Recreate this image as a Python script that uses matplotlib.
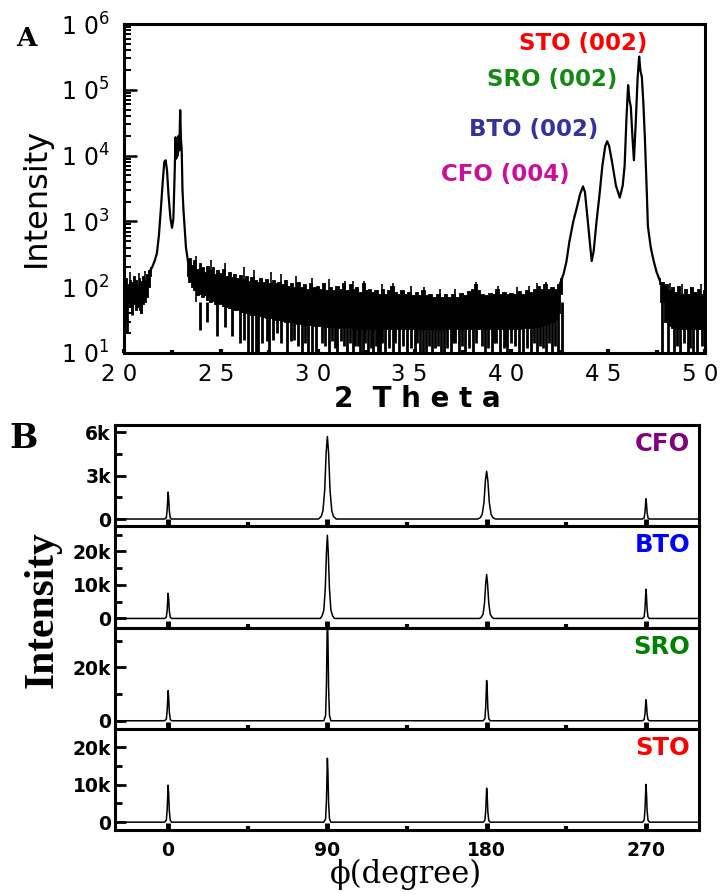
import matplotlib
matplotlib.use("Agg")
import matplotlib.pyplot as plt
from matplotlib import ticker
from matplotlib.transforms import ScaledTranslation

plt.rcParams['font.family'] = ['DejaVu Sans']
plt.rcParams['mathtext.fontset'] = 'dejavusans'

# ---------------- panel A : 2theta scan ----------------
# noisy background, read as upper / lower edge of the black band
bg1_t = [20.0, 20.1, 20.2, 20.3, 20.4, 20.5, 20.6, 20.7, 20.8, 20.9, 21.0, 21.1, 21.2, 21.3, 21.4]
bg1_hi = [120, 140, 110, 130, 120, 150, 130, 110, 140, 125, 150, 130, 160, 180, 200]
bg1_lo = [45, 30, 55, 50, 40, 55, 45, 50, 45, 40, 55, 60, 70, 100, 150]

bg2_t = [23.25, 23.40, 23.50, 23.65, 23.80, 23.90, 24.05, 24.20, 24.30, 24.45, 24.60, 24.70,
         24.85, 25.00, 25.10, 25.30, 25.45, 25.55, 25.70, 25.90, 26.00, 26.15, 26.35, 26.45,
         26.60, 26.80, 26.90, 27.05, 27.20, 27.35, 27.55, 27.70, 27.85, 28.00, 28.20, 28.30,
         28.50, 28.65, 28.80, 29.00, 29.15, 29.30, 29.50, 29.60, 29.80, 30.00, 30.15, 30.30,
         30.50, 30.65, 30.80, 31.00, 31.20, 31.35, 31.50, 31.70, 31.85, 32.00, 32.20, 32.35,
         32.50, 32.70, 32.85, 33.00, 33.20, 33.35, 33.50, 33.65, 33.85, 34.00, 34.20, 34.35,
         34.55, 34.70, 34.90, 35.10, 35.25, 35.45, 35.60, 35.80, 36.00, 36.20, 36.40, 36.60,
         36.80, 37.00, 37.20, 37.40, 37.60, 37.80, 38.00, 38.15, 38.30, 38.50, 38.70, 38.90,
         39.10, 39.25, 39.45, 39.60, 39.80, 40.00, 40.20, 40.40, 40.60, 40.80, 41.00, 41.20,
         41.40, 41.55, 41.75, 41.90, 42.10, 42.30, 42.45, 42.60]
bg2_hi = [250, 280, 220, 260, 190, 230, 200, 170, 210, 180, 200, 160,
          185, 165, 190, 150, 170, 145, 160, 140, 155, 135, 150, 125,
          145, 130, 120, 140, 120, 135, 115, 130, 115, 120, 110, 130,
          105, 115, 100, 120, 100, 110, 95, 115, 100, 105, 95, 115,
          90, 100, 90, 105, 95, 115, 90, 110, 95, 100, 85, 115,
          90, 95, 85, 90, 80, 95, 80, 90, 105, 85, 80, 90,
          80, 85, 75, 85, 75, 90, 75, 80, 72, 80, 72, 78,
          70, 80, 72, 82, 75, 88, 95, 110, 90, 78, 75, 82,
          78, 95, 78, 85, 78, 82, 78, 88, 80, 90, 85, 95,
          105, 95, 110, 95, 100, 95, 110, 140]
bg2_lo = [150, 120, 100, 90, 75, 80, 70, 75, 65, 60, 62, 55,
          58, 55, 52, 50, 48, 50, 45, 45, 42, 42, 40, 40,
          38, 38, 36, 36, 35, 34, 34, 33, 32, 32, 31, 30,
          30, 30, 29, 28, 28, 27, 27, 27, 26, 26, 26, 25,
          25, 25, 25, 24, 24, 24, 24, 24, 23, 23, 23, 23,
          23, 23, 23, 23, 23, 23, 23, 23, 23, 23, 23, 23,
          23, 23, 23, 23, 23, 23, 23, 23, 23, 23, 23, 23,
          23, 23, 23, 23, 23, 23, 23, 24, 23, 23, 23, 23,
          23, 23, 23, 23, 23, 23, 23, 23, 24, 24, 24, 25,
          25, 26, 27, 28, 30, 32, 40, 80]

bg3_t = [47.6, 47.75, 48.0, 48.15, 48.3, 48.5, 48.65, 48.8, 49.0, 49.15, 49.3, 49.5, 49.65, 49.8, 50.0]
bg3_hi = [140, 120, 110, 90, 100, 85, 105, 80, 95, 80, 100, 85, 95, 80, 90]
bg3_lo = [110, 60, 30, 26, 24, 23, 23, 23, 23, 23, 23, 23, 23, 23, 23]

# single noise spikes sticking out above the band
spike_t = [20.3, 20.8, 21.1, 23.7, 24.5, 25.2, 26.2, 26.7, 27.6, 28.1, 28.9, 29.7, 30.6, 31.4,
           31.8, 32.4, 33.3, 33.9, 34.8, 35.5, 36.3, 37.1, 38.2, 39.3, 40.3, 40.9, 41.3, 41.8,
           48.2, 48.8, 49.3, 49.8]
spike_hi = [170, 165, 175, 300, 260, 230, 200, 180, 170, 160, 150, 140, 135, 125,
            125, 125, 110, 115, 105, 100, 95, 95, 120, 105, 100, 105, 115, 120,
            115, 110, 100, 110]

# points where the noise drops towards / below the axis floor
dip_t = [20.15, 20.4, 20.9, 23.9, 24.3, 24.8, 25.2, 25.6, 26.0, 26.2, 26.4, 26.6, 26.8, 26.9,
         27.1, 27.4, 27.5, 27.7, 27.9, 28.1, 28.4, 28.6, 28.8, 29.0, 29.2, 29.35, 29.5, 29.7,
         29.9, 30.2, 30.4, 30.6, 30.75, 30.9, 31.0, 31.2, 31.35, 31.5, 31.65, 31.8, 31.95,
         32.1, 32.2, 32.34, 32.45, 32.6, 32.75, 32.85, 33.0, 33.1, 33.2, 33.3, 33.5, 33.7,
         33.9, 34.0, 34.2, 34.4, 34.6, 34.8, 35.0, 35.15, 35.3, 35.45, 35.6, 35.75, 35.9,
         36.05, 36.2, 36.35, 36.5, 36.7, 36.9, 37.0, 37.1, 37.3, 37.45, 37.6, 37.8, 38.0,
         38.2, 38.5, 38.65, 38.8, 39.0, 39.1, 39.2, 39.4, 39.6, 39.7, 39.8, 40.0, 40.2,
         40.4, 40.6, 40.8, 41.0, 41.15, 41.3, 41.5, 41.65, 41.8, 41.95, 42.1, 42.25, 42.4,
         42.6, 47.8, 48.1, 48.4, 48.55, 48.7, 48.9, 49.1, 49.25, 49.4, 49.6, 49.85]
dip_min = [20, 38, 40, 22, 30, 18, 25, 18, 14, 16, 1, 1, 1, 1,
           14, 15, 1, 16, 20, 14, 1, 15, 16, 13, 1, 14, 1, 1,
           1, 14, 13, 1, 15, 12, 1, 15, 13, 1, 14, 1, 13,
           13, 1, 1, 14, 1, 12, 1, 13, 1, 1, 14, 1, 12,
           1, 14, 1, 13, 1, 12, 1, 14, 1, 1, 1, 13, 1,
           12, 13, 1, 1, 12, 1, 14, 14, 1, 13, 1, 12, 1,
           14, 13, 1, 12, 1, 14, 14, 1, 12, 13, 1, 14, 13,
           1, 1, 12, 1, 14, 1, 13, 12, 1, 14, 1, 13, 1,
           1, 1, 1, 1, 13, 1, 14, 1, 12, 1, 1, 13]

# substrate / film peaks near 22-23 deg
pk1_t = [21.30, 21.45, 21.60, 21.70, 21.80, 21.90, 22.00, 22.08, 22.15, 22.22, 22.30,
         22.40, 22.48, 22.55, 22.62, 22.66, 22.70, 22.74, 22.78, 22.82, 22.86, 22.90,
         22.94, 22.98, 23.02, 23.07, 23.12, 23.20, 23.30]
pk1_i = [170, 200, 260, 330, 600, 1500, 4000, 8000, 8500, 6000, 2500,
         1100, 800, 1100, 6000, 19000, 9000, 15000, 10000, 20000, 12000, 49000,
         18000, 12000, 3000, 1500, 900, 400, 250]

# (004)/(002) peaks near 44-47 deg
pk2_t = [42.50, 42.70, 42.85, 43.00, 43.20, 43.40, 43.55, 43.70, 43.80, 43.95, 44.08,
         44.15, 44.25, 44.40, 44.55, 44.70, 44.85, 44.95, 45.05, 45.20, 45.40, 45.60,
         45.75, 45.85, 45.95, 46.03, 46.10, 46.17, 46.25, 46.33, 46.42, 46.52, 46.60,
         46.66, 46.74, 46.82, 46.90, 47.00, 47.05, 47.20, 47.35, 47.50, 47.65]
pk2_i = [110, 160, 250, 500, 1000, 1700, 2600, 3400, 2800, 1000, 400,
         250, 350, 1000, 2500, 7000, 14000, 16500, 14000, 8000, 3500, 2300,
         3500, 7000, 40000, 118000, 70000, 55000, 20000, 8500, 30000, 150000, 320000,
         200000, 155000, 60000, 17000, 2500, 850, 400, 250, 170, 130]

peak_names = ['STO (002)', 'SRO (002)', 'BTO (002)', 'CFO (004)']
peak_colors = ['#ff0000', '#138a13', '#33339a', '#cc0f99']
label_x = [47.0, 45.45, 44.47, 43.03]
label_y = [5.1e5, 1.41e5, 2.45e4, 5.1e3]

# ---------------- panel B : phi scans ----------------
cfo_phi = [-30, -2, -1, -0.5, 0, 0.3, 0.7, 1.2, 2,
           85, 86.5, 87.5, 88.5, 89.3, 90, 90.7, 91.5, 92.5, 93.5, 95,
           175, 176.5, 177.5, 178.5, 179.3, 180, 180.7, 181.5, 182.5, 183.5, 185,
           268, 269, 269.5, 270, 270.3, 270.7, 271.2, 272, 300]
cfo_int = [0, 0, 90, 650, 1860, 1500, 560, 90, 0,
           0, 170, 570, 2000, 4560, 5700, 4560, 2000, 570, 170, 0,
           0, 100, 330, 1150, 2640, 3300, 2640, 1150, 330, 100, 0,
           0, 70, 490, 1400, 1120, 420, 70, 0, 0]

bto_phi = [-30, -2, -1, -0.5, 0, 0.3, 0.7, 1.2, 2,
           86, 87, 88, 88.8, 89.5, 90, 90.5, 91.2, 92, 93, 94,
           176, 177, 178, 178.8, 179.5, 180, 180.5, 181.2, 182, 183, 184,
           268, 269, 269.5, 270, 270.3, 270.7, 271.2, 272, 300]
bto_int = [0, 0, 380, 2600, 7500, 6000, 2250, 380, 0,
           0, 740, 2480, 8700, 19800, 24800, 19800, 8700, 2480, 740, 0,
           0, 390, 1310, 4600, 10500, 13100, 10500, 4600, 1310, 390, 0,
           0, 430, 3000, 8700, 7000, 2600, 430, 0, 0]

sro_phi = [-30, -2, -1, -0.5, 0, 0.3, 0.7, 1.2, 2,
           88, 89, 89.5, 90, 90.3, 90.7, 91.2, 92,
           178, 179, 179.5, 180, 180.3, 180.7, 181.2, 182,
           268, 269, 269.5, 270, 270.3, 270.7, 271.2, 272, 300]
sro_int = [0, 0, 560, 4000, 11300, 9000, 3400, 560, 0,
           0, 2000, 14000, 40000, 32000, 12000, 2000, 0,
           0, 750, 5300, 15100, 12100, 4500, 750, 0,
           0, 400, 2800, 7900, 6300, 2400, 400, 0, 0]

sto_phi = sro_phi
sto_int = [0, 0, 500, 3500, 9900, 7900, 3000, 500, 0,
           0, 850, 6000, 17100, 13700, 5100, 850, 0,
           0, 450, 3200, 9100, 7300, 2700, 450, 0,
           0, 500, 3500, 10100, 8100, 3000, 500, 0, 0]

layers = ['CFO', 'BTO', 'SRO', 'STO']
layer_colors = ['#800080', '#0000ff', '#008000', '#ff0000']
layer_phi = [cfo_phi, bto_phi, sro_phi, sto_phi]
layer_int = [cfo_int, bto_int, sro_int, sto_int]
layer_ylim = [(-500, 6500), (-2700, 27500), (-3000, 35000), (-2100, 25000)]
layer_major = [[0, 3000, 6000], [0, 10000, 20000], [0, 20000], [0, 10000, 20000]]
layer_minor = [[1500, 4500], [5000, 15000, 25000], [10000, 30000], [5000, 15000]]

# ---------------- drawing ----------------
fig = plt.figure(figsize=(7.2, 8.94), dpi=100)

axA = fig.add_axes([124 / 720, 1 - 353 / 894, 581 / 720, 329 / 894])
axA.set_yscale('log')
for t, hi, lo in [(bg1_t, bg1_hi, bg1_lo), (bg2_t, bg2_hi, bg2_lo), (bg3_t, bg3_hi, bg3_lo)]:
    axA.fill_between(t, lo, hi, step='mid', color='black', linewidth=0.6)
axA.vlines(spike_t, 60, spike_hi, color='black', linewidth=1.2)
axA.vlines(dip_t, dip_min, 60, color='black', linewidth=2.0)
axA.plot(pk1_t, pk1_i, color='black', lw=1.6)
axA.plot(pk2_t, pk2_i, color='black', lw=1.6)
axA.set_xlim(20, 50)
axA.set_ylim(10, 1e6)

for name, c, x, y in zip(peak_names, peak_colors, label_x, label_y):
    axA.text(x, y, name, color=c, fontsize=16.5, fontweight='bold', ha='right', va='center')

axA.yaxis.set_major_locator(ticker.FixedLocator([10, 1e2, 1e3, 1e4, 1e5, 1e6]))
axA.yaxis.set_major_formatter(ticker.FixedFormatter(
    [r'$\mathregular{1\ 0^{%d}}$' % k for k in range(1, 7)]))
axA.yaxis.set_minor_locator(ticker.LogLocator(base=10, subs=range(2, 10)))
axA.yaxis.set_minor_formatter(ticker.NullFormatter())
axA.xaxis.set_major_locator(ticker.FixedLocator([20, 25, 30, 35, 40, 45, 50]))
axA.xaxis.set_major_formatter(ticker.FixedFormatter(['2 0', '2 5', '3 0', '3 5', '4 0', '4 5', '5 0']))
axA.xaxis.set_minor_locator(ticker.MultipleLocator(2.5))
axA.tick_params(axis='y', which='major', direction='in', length=9, width=1.8, labelsize=17, pad=10)
axA.tick_params(axis='y', which='minor', direction='in', length=5, width=1.4)
axA.tick_params(axis='x', which='major', direction='in', length=3, width=3, labelsize=16.5, pad=7)
axA.tick_params(axis='x', which='minor', direction='in', length=2, width=3)
for s in axA.spines.values():
    s.set_linewidth(2.2)
# x labels sit a little left of their ticks in the original
for lab in axA.get_xticklabels():
    lab.set_transform(lab.get_transform() + ScaledTranslation(-5 / 100, 0, fig.dpi_scale_trans))

fig.text(36 / 720, 1 - 197 / 894, 'Intensity', rotation=90, fontsize=23, ha='center', va='center')
fig.text(417 / 720, 1 - 399 / 894, '2  T h e t a', fontsize=20, fontweight='bold', ha='center', va='center')
fig.text(27 / 720, 1 - 38 / 894, 'A', fontsize=19, fontweight='bold', family='DejaVu Serif',
         ha='center', va='center')

# stacked phi scans
h = 101.25
for i in range(4):
    top = 425 + i * h
    ax = fig.add_axes([115 / 720, 1 - (top + h) / 894, 584 / 720, h / 894])
    ax.plot(layer_phi[i], layer_int[i], color='black', lw=1.1)
    ax.set_xlim(-30, 300)
    ax.set_ylim(*layer_ylim[i])
    ax.yaxis.set_major_locator(ticker.FixedLocator(layer_major[i]))
    ax.yaxis.set_minor_locator(ticker.FixedLocator(layer_minor[i]))
    ax.yaxis.set_major_formatter(ticker.FuncFormatter(
        lambda v, p: '0' if v == 0 else '%dk' % round(v / 1000)))
    ax.xaxis.set_major_locator(ticker.FixedLocator([0, 90, 180, 270]))
    ax.xaxis.set_minor_locator(ticker.FixedLocator([45, 135, 225]))
    ax.tick_params(axis='y', which='major', direction='in', length=8, width=2,
                   labelsize=13.5, pad=3)
    ax.tick_params(axis='y', which='minor', direction='in', length=5, width=2)
    ax.tick_params(axis='x', which='major', direction='in', length=5, width=3.5,
                   labelsize=13.5, pad=8, labelbottom=(i == 3))
    ax.tick_params(axis='x', which='minor', direction='in', length=3, width=3)
    for lab in ax.get_yticklabels() + ax.get_xticklabels():
        lab.set_fontweight('bold')
    for s in ax.spines.values():
        s.set_linewidth(2.2)
    ax.text(0.985, 0.81, layers[i], transform=ax.transAxes, color=layer_colors[i],
            fontsize=17.5, fontweight='bold', ha='right', va='center')

fig.text(43 / 720, 1 - 610 / 894, 'Intensity', rotation=90, fontsize=30, fontweight='bold',
         family=['Liberation Serif', 'DejaVu Serif'], ha='center', va='center')
fig.text(406 / 720, 1 - 874 / 894, '\u03d5(degree)', fontsize=22,
         family=['DejaVu Serif'], ha='center', va='center')
fig.text(24 / 720, 1 - 438 / 894, 'B', fontsize=24, fontweight='bold', family='DejaVu Serif',
         ha='center', va='center')

fig.savefig('out.png', dpi=100)
